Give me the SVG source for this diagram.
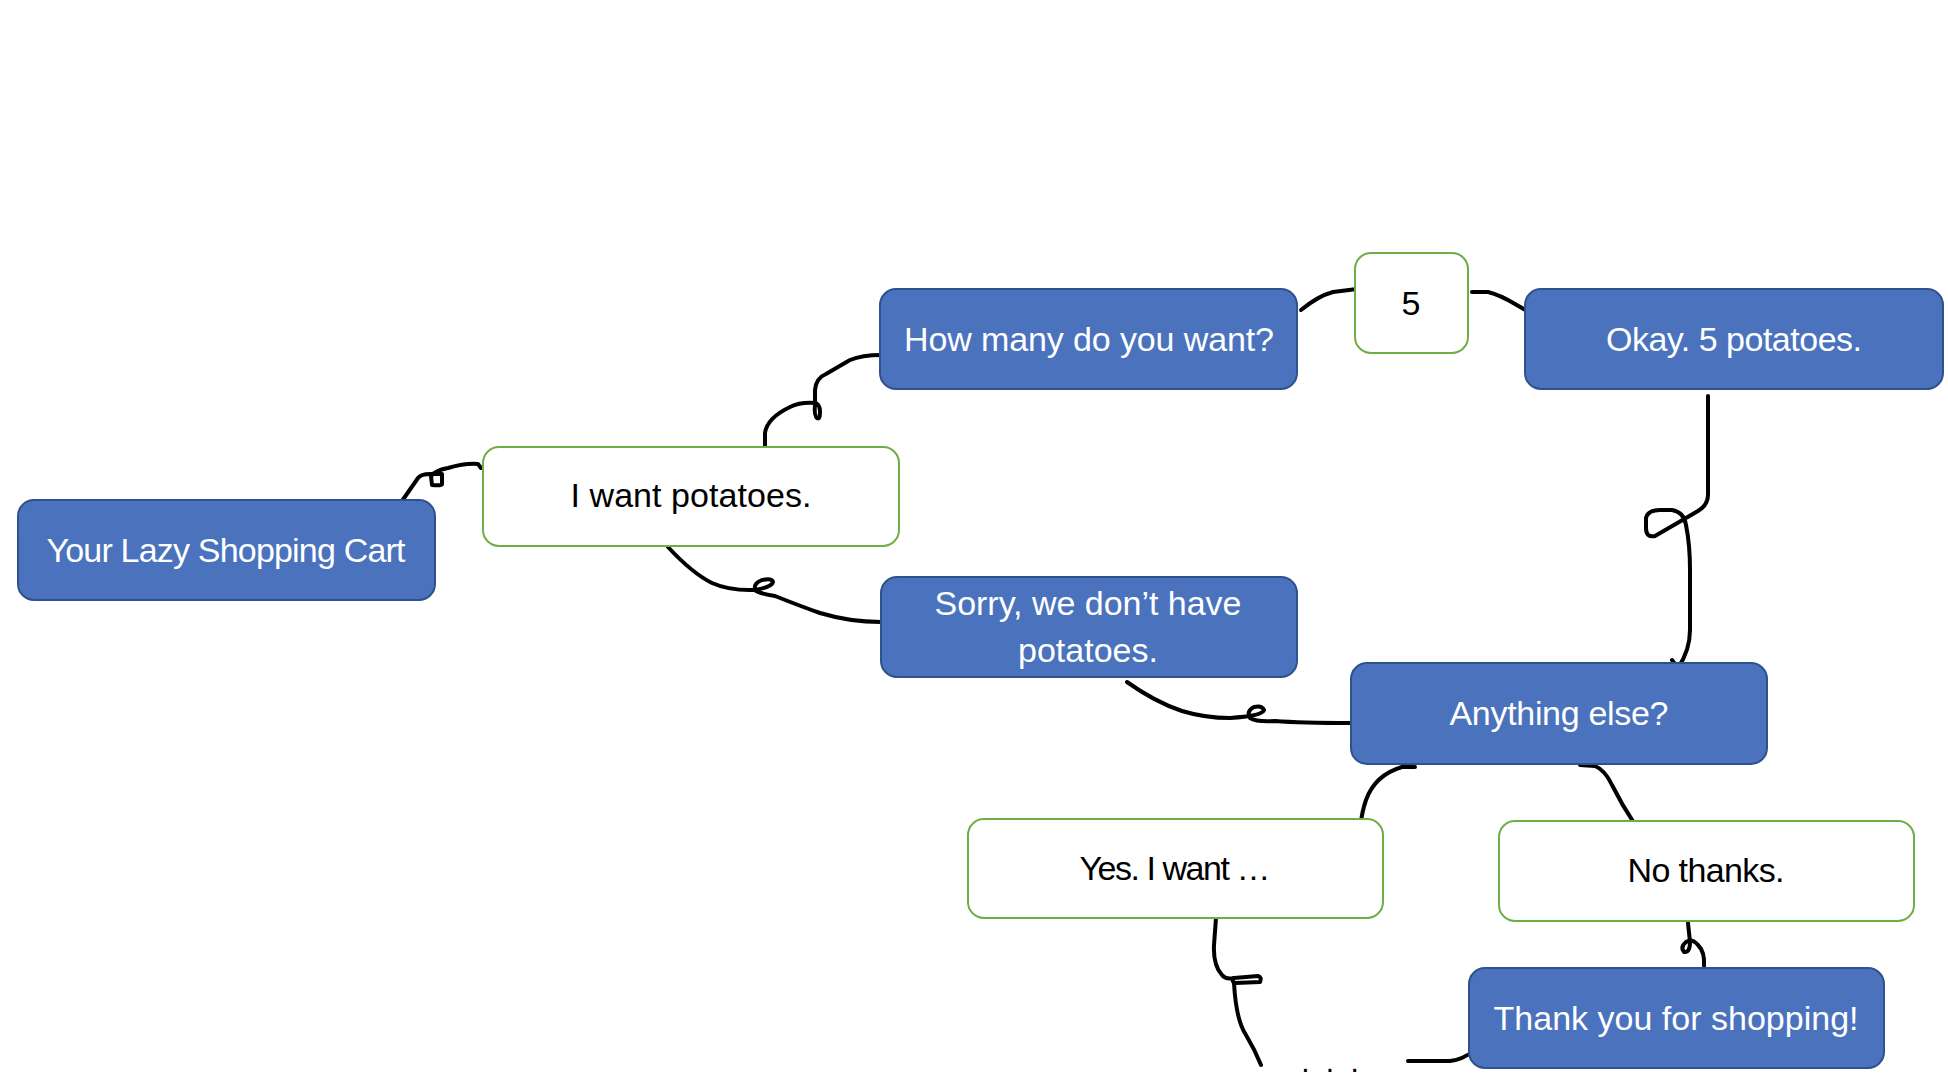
<svg xmlns="http://www.w3.org/2000/svg" width="1948" height="1088" viewBox="0 0 1948 1088">
<style>
.blue rect{fill:#4A72BD;stroke:#2F528F;stroke-width:2}
.green rect{fill:#FFFFFF;stroke:#70AD47;stroke-width:2}
text{font-family:"Liberation Sans",Arial,sans-serif;font-size:34px;text-anchor:middle}
.blue text{fill:#FFFFFF}
.green text{fill:#000000}
.conn path{fill:none;stroke:#000000;stroke-width:4;stroke-linecap:round;stroke-linejoin:round}
</style>
<rect width="1948" height="1088" fill="#FFFFFF"/>
<g class="conn" id="connectors">
<path d="M402,501 L418,478 Q421,474 430,474 L442,474 L442,484 Q442,486 432,485 L431,476 Q436,470 448,468 Q465,463 478,464 L481,468"/>
<path d="M765,447 L765,433 Q767,418 790,407 Q800,402 815,403 Q820,404 820,412 Q820,420 817,418 Q814,416 815,404 L815,390 Q816,378 826,374 L850,360 Q862,355 881,355"/>
<path d="M668,547 Q692,573 712,583 Q730,591 755,590 Q772,587 773,582 Q772,578 762,580 Q752,584 756,591 Q762,594 775,596 Q800,606 820,613 Q850,622 881,622"/>
<path d="M1301,310 Q1318,296 1333,292 L1357,289"/>
<path d="M1472,292 L1488,292 Q1500,295 1515,304 L1527,311"/>
<circle cx="1528" cy="311" r="3.5" fill="#000000"/>
<path d="M1708,396 L1708,495 Q1708,505 1698,511 L1655,536 Q1646,538 1646,528 L1646,518 Q1648,510 1660,510 L1672,510 Q1684,512 1686,525 Q1690,545 1690,570 L1690,630 Q1690,650 1678,668 M1672,660 L1678,668"/>
<path d="M1127,682 Q1155,702 1182,711 Q1205,718 1230,718 Q1262,716 1264,710 Q1262,705 1254,707 Q1246,711 1250,718 Q1256,722 1275,721 Q1300,723 1352,723"/>
<path d="M1415,767 L1402,767 Q1375,775 1366,800 Q1362,812 1361,822"/>
<path d="M1580,765 L1595,766 Q1605,770 1612,785 Q1622,805 1634,823"/>
<path d="M1216,918 L1214,945 Q1213,965 1222,975 Q1226,980 1234,978 L1258,976 Q1262,977 1260,982 L1235,983 Q1232,982 1233,978 M1234,983 Q1236,1020 1246,1035 Q1255,1050 1261,1065"/>
<path d="M1704,966 Q1705,952 1698,945 Q1692,938 1686,942 Q1680,947 1684,952 Q1690,953 1690,942 L1688,923"/>
<path d="M1475,1050 Q1462,1060 1450,1061 L1408,1061"/>
</g>
<g id="cart" class="blue"><rect x="18" y="500" width="417" height="100" rx="16"/><text x="226" y="562" textLength="359">Your Lazy Shopping Cart</text></g>
<g id="want" class="green"><rect x="483" y="447" width="416" height="99" rx="16"/><text x="691" y="507" textLength="241">I want potatoes.</text></g>
<g id="howmany" class="blue"><rect x="880" y="289" width="417" height="100" rx="16"/><text x="1089" y="351" textLength="370">How many do you want?</text></g>
<g id="five" class="green"><rect x="1355" y="253" width="113" height="100" rx="16"/><text x="1411" y="315">5</text></g>
<g id="okay" class="blue"><rect x="1525" y="289" width="418" height="100" rx="16"/><text x="1734" y="351" textLength="256">Okay. 5 potatoes.</text></g>
<g id="sorry" class="blue"><rect x="881" y="577" width="416" height="100" rx="16"/><text x="1088" y="615" textLength="307">Sorry, we don’t have</text><text x="1088" y="662">potatoes.</text></g>
<g id="anything" class="blue"><rect x="1351" y="663" width="416" height="101" rx="16"/><text x="1559" y="725" textLength="219">Anything else?</text></g>
<g id="yes" class="green"><rect x="968" y="819" width="415" height="99" rx="16"/><text x="1175" y="880" textLength="191">Yes. I want …</text></g>
<g id="nothanks" class="green"><rect x="1499" y="821" width="415" height="100" rx="16"/><text x="1706" y="882" textLength="157">No thanks.</text></g>
<g id="thanks" class="blue"><rect x="1469" y="968" width="415" height="100" rx="16"/><text x="1676" y="1030" textLength="365">Thank you for shopping!</text></g>
<g id="dots"><text x="1332" y="1072" style="letter-spacing:4px;font-size:30px">. . .</text></g>
</svg>
